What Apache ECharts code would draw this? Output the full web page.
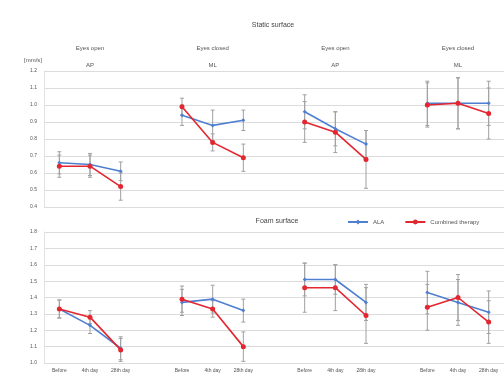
<!DOCTYPE html>
<html>
<head>
<meta charset="utf-8">
<script src="https://cdn.jsdelivr.net/npm/echarts@6/dist/echarts.min.js"></script>
<style>
  html, body { margin: 0; padding: 0; background: #fff; }
  #chart { width: 504px; height: 374px; }
</style>
</head>
<body>
<div id="chart"></div>
<script>
// time points inside each condition
var days = ['Before', '4th day', '28th day'];
// column headers (condition / direction)
var conditions = ['Eyes open\nAP', 'Eyes closed\nML', 'Eyes open\nAP', 'Eyes closed\nML'];

// static surface
var staticALA = [0.66, 0.65, 0.61, 0.94, 0.88, 0.91, 0.96, 0.86, 0.77, 1.01, 1.01, 1.01];
var staticALAErr = [0.065, 0.065, 0.055, 0.06, 0.09, 0.06, 0.10, 0.10, 0.08, 0.13, 0.15, 0.13];
var staticComb = [0.64, 0.64, 0.52, 0.99, 0.78, 0.69, 0.90, 0.84, 0.68, 1.00, 1.01, 0.95];
var staticCombErr = [0.065, 0.065, 0.08, 0.05, 0.05, 0.08, 0.12, 0.12, 0.17, 0.13, 0.15, 0.15];

// foam surface
var foamALA = [1.33, 1.23, 1.09, 1.37, 1.39, 1.32, 1.51, 1.51, 1.37, 1.43, 1.37, 1.31];
var foamALAErr = [0.055, 0.05, 0.07, 0.08, 0.085, 0.07, 0.10, 0.09, 0.11, 0.13, 0.14, 0.13];
var foamComb = [1.33, 1.28, 1.08, 1.39, 1.33, 1.10, 1.46, 1.46, 1.29, 1.34, 1.40, 1.25];
var foamCombErr = [0.055, 0.04, 0.07, 0.08, 0.05, 0.09, 0.15, 0.14, 0.17, 0.14, 0.14, 0.13];

var staticTicks = { min: 0.4, max: 1.2, step: 0.1 };
var foamTicks = { min: 1.0, max: 1.8, step: 0.1 };

var BLUE = '#4f7fd0';
var RED = '#e3262f';
var TXT = '#555';

// a gap slot between each block of 3 points
function slotOf(i) { return i + Math.floor(i / 3); }
function toSlots(arr) {
  var out = [];
  arr.forEach(function (v, i) {
    if (i > 0 && i % 3 === 0) out.push(null);
    out.push(v);
  });
  return out;
}
function errData(vals, errs) {
  return vals.map(function (v, i) { return [slotOf(i), v - errs[i], v + errs[i]]; });
}

var xLabels = toSlots([].concat(days, days, days, days)).map(function (d) { return d || ''; });
var headLabels = xLabels.map(function () { return ''; });
conditions.forEach(function (c, k) { headLabels[slotOf(k * 3 + 1)] = c; });

function renderErr(params, api) {
  var x = api.value(0);
  var lo = api.coord([x, api.value(1)]);
  var hi = api.coord([x, api.value(2)]);
  var cap = 2;
  var st = { stroke: '#a0a0a0', lineWidth: 1 };
  return {
    type: 'group',
    children: [
      { type: 'line', shape: { x1: hi[0], y1: hi[1], x2: lo[0], y2: lo[1] }, style: st },
      { type: 'line', shape: { x1: hi[0] - cap, y1: hi[1], x2: hi[0] + cap, y2: hi[1] }, style: st },
      { type: 'line', shape: { x1: lo[0] - cap, y1: lo[1], x2: lo[0] + cap, y2: lo[1] }, style: st }
    ]
  };
}

function lineSeries(name, vals, color, gi, isRed) {
  return {
    name: name, type: 'line', xAxisIndex: gi === 0 ? 0 : 2, yAxisIndex: gi,
    data: toSlots(vals), connectNulls: false,
    symbol: isRed ? 'circle' : 'diamond', symbolSize: isRed ? 5 : 4,
    lineStyle: { color: color, width: 1.6 },
    itemStyle: { color: color },
    z: isRed ? 4 : 3
  };
}
function errSeries(vals, errs, gi) {
  return {
    type: 'custom', xAxisIndex: gi === 0 ? 0 : 2, yAxisIndex: gi,
    renderItem: renderErr, data: errData(vals, errs), z: 2, silent: true
  };
}

function yAxis(gi, t, name) {
  return {
    type: 'value', gridIndex: gi, min: t.min, max: t.max, interval: t.step,
    name: name, nameLocation: 'end', nameGap: 8,
    nameTextStyle: { color: TXT, fontSize: 6, align: 'right', padding: [0, 2, 0, 0] },
    axisLine: { show: true, lineStyle: { color: '#e2e2e2' } },
    axisTick: { show: false },
    axisLabel: { color: TXT, fontSize: 5, margin: 7, formatter: function (v) { return v.toFixed(1); } },
    splitLine: { lineStyle: { color: '#dcdcdc', width: 1 } }
  };
}

var chart = echarts.init(document.getElementById('chart'));
chart.setOption({
  animation: false,
  backgroundColor: '#fff',
  title: [
    { text: 'Static surface', left: 268, top: 17, textAlign: 'center', textStyle: { fontSize: 7, fontWeight: 'normal', color: '#444' } },
    { text: 'Foam surface', left: 272, top: 213, textAlign: 'center', textStyle: { fontSize: 7, fontWeight: 'normal', color: '#444' } }
  ],
  legend: {
    data: ['ALA', 'Combined therapy'], left: 342, top: 214,
    itemWidth: 20, itemHeight: 6, itemGap: 20,
    textStyle: { fontSize: 6, color: TXT }
  },
  grid: [
    { left: 44, top: 71, width: 465, height: 136 },
    { left: 44, top: 232, width: 465, height: 131 }
  ],
  xAxis: [
    { type: 'category', gridIndex: 0, data: xLabels, boundaryGap: true,
      axisLine: { show: false }, axisTick: { show: false }, axisLabel: { show: false } },
    { type: 'category', gridIndex: 0, position: 'top', data: headLabels, boundaryGap: true,
      axisLine: { show: false }, axisTick: { show: false },
      axisLabel: { interval: 0, color: TXT, fontSize: 6, lineHeight: 17, margin: -3 } },
    { type: 'category', gridIndex: 1, data: xLabels, boundaryGap: true,
      axisLine: { show: false }, axisTick: { show: false },
      axisLabel: { interval: 0, color: TXT, fontSize: 5, margin: 5 } }
  ],
  yAxis: [yAxis(0, staticTicks, '[mm/s]'), yAxis(1, foamTicks, '')],
  series: [
    errSeries(staticALA, staticALAErr, 0),
    errSeries(staticComb, staticCombErr, 0),
    errSeries(foamALA, foamALAErr, 1),
    errSeries(foamComb, foamCombErr, 1),
    lineSeries('ALA', staticALA, BLUE, 0, false),
    lineSeries('Combined therapy', staticComb, RED, 0, true),
    lineSeries('ALA', foamALA, BLUE, 1, false),
    lineSeries('Combined therapy', foamComb, RED, 1, true)
  ]
});
</script>
</body>
</html>
